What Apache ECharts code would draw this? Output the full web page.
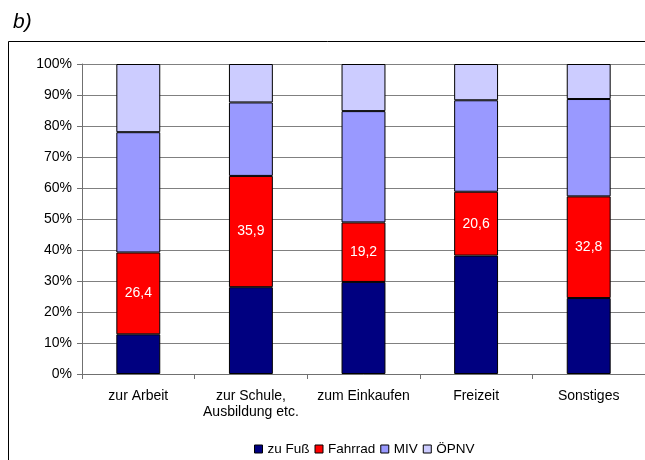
<!DOCTYPE html>
<html>
<head>
<meta charset="utf-8">
<script src="https://cdn.jsdelivr.net/npm/echarts@6/dist/echarts.min.js"></script>
<style>
  html, body { margin: 0; padding: 0; background: #fff; }
  #chart { width: 645px; height: 460px; }
</style>
</head>
<body>
<div id="chart"></div>
<script>
// Trip purposes and modal split shares (percent)
const categories = ['zur Arbeit', 'zur Schule,\nAusbildung etc.', 'zum Einkaufen', 'Freizeit', 'Sonstiges'];
const zuFuss  = [12.8, 28.0, 29.7, 38.2, 24.5];
const fahrrad = [26.4, 35.9, 19.2, 20.6, 32.8];
const miv     = [38.8, 23.7, 35.9, 29.5, 31.4];
const oepnv   = [22.0, 12.4, 15.2, 11.7, 11.3];
const yTicks  = [0, 10, 20, 30, 40, 50, 60, 70, 80, 90, 100];

const FONT = "'Liberation Sans', Arial, sans-serif";
const chart = echarts.init(document.getElementById('chart'), null, { renderer: 'canvas' });

function bar(name, data, color, showLabel) {
  return {
    name: name,
    type: 'bar',
    stack: 'total',
    data: data,
    barWidth: '39%',
    itemStyle: { color: color, borderColor: '#000', borderWidth: 1 },
    label: {
      show: showLabel,
      position: 'inside',
      color: '#fff',
      fontFamily: FONT,
      fontSize: 14,
      formatter: p => p.value.toFixed(1).replace('.', ',')
    },
    emphasis: { disabled: true }
  };
}

chart.setOption({
  animation: false,
  backgroundColor: '#fff',
  textStyle: { fontFamily: FONT },
  graphic: [
    {
      type: 'rect',
      shape: { x: 8.5, y: 41.5, width: 800, height: 800 },
      style: { fill: 'none', stroke: '#000', lineWidth: 1 },
      z: -1
    },
    {
      type: 'text',
      left: 13, top: 12,
      style: { text: 'b)', font: 'italic 21px ' + FONT, fill: '#000' }
    }
  ],
  legend: {
    left: 249,
    top: 437,
    itemWidth: 8,
    itemHeight: 8,
    itemGap: 5,
    icon: 'rect',
    textStyle: { fontFamily: FONT, fontSize: 13.5, color: '#000' },
    itemStyle: { borderColor: '#000', borderWidth: 1 },
    data: ['zu Fuß', 'Fahrrad', 'MIV', 'ÖPNV']
  },
  grid: { left: 82, top: 64, width: 565, height: 310, containLabel: false },
  xAxis: {
    type: 'category',
    data: categories,
    axisLine: { lineStyle: { color: '#707070', width: 1 } },
    axisTick: { show: true, length: 5, lineStyle: { color: '#707070' } },
    axisLabel: { color: '#000', fontSize: 14, fontFamily: FONT, margin: 14, lineHeight: 16, interval: 0 }
  },
  yAxis: {
    type: 'value',
    min: yTicks[0],
    max: yTicks[yTicks.length - 1],
    interval: yTicks[1] - yTicks[0],
    axisLine: { show: true, lineStyle: { color: '#707070', width: 1 } },
    axisTick: { show: true, length: 5, lineStyle: { color: '#707070' } },
    splitLine: { show: true, lineStyle: { color: '#808080', width: 1 } },
    axisLabel: { color: '#000', fontSize: 14, fontFamily: FONT, margin: 10, formatter: v => v + '%' }
  },
  series: [
    bar('zu Fuß', zuFuss, '#000080', false),
    bar('Fahrrad', fahrrad, '#FF0000', true),
    bar('MIV', miv, '#9999FF', false),
    bar('ÖPNV', oepnv, '#CCCCFF', false)
  ]
});
</script>
</body>
</html>
